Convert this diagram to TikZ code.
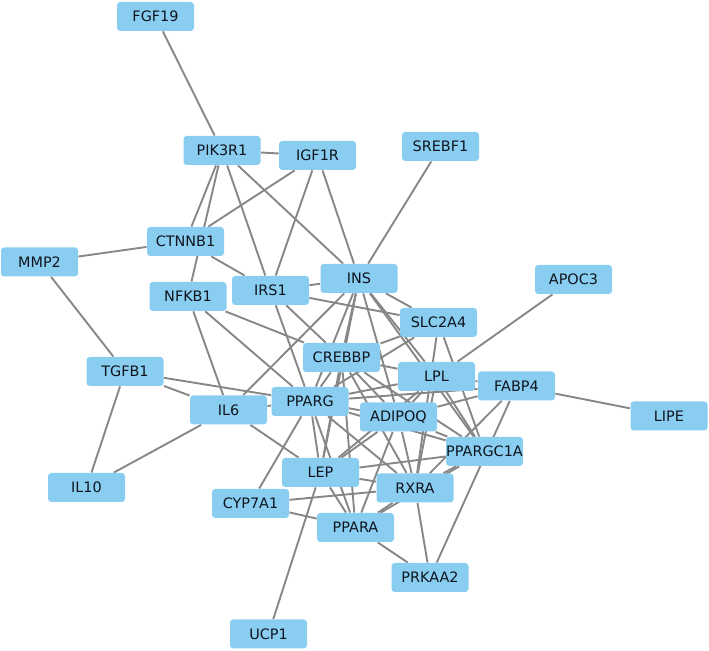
\documentclass[tikz,border=0pt]{standalone}
\usepackage{fontspec}
\setmainfont{DejaVu Sans}
\definecolor{nodeblue}{RGB}{137,206,241}
\definecolor{edgegray}{RGB}{135,135,135}
\definecolor{txt}{RGB}{15,20,30}
\pgfdeclarelayer{bg}
\pgfsetlayers{bg,main}
\begin{document}
\begin{tikzpicture}[x=0.5pt,y=-0.5pt,
  gene/.style={rectangle, rounded corners=1.6pt, fill=nodeblue, minimum width=38.5pt, minimum height=14.5pt, inner sep=0pt, font=\fontsize{7.2}{8}\selectfont, text=txt},
  link/.style={draw=edgegray, line width=0.95pt}]
\useasboundingbox (0,0) rectangle (709,651);
\node[gene] (FGF19) at (155.5,16.5) {FGF19};
\node[gene] (PIK3R1) at (222,150.5) {PIK3R1};
\node[gene] (IGF1R) at (317.5,155.5) {IGF1R};
\node[gene] (SREBF1) at (440.5,146.5) {SREBF1};
\node[gene] (CTNNB1) at (185.5,241.5) {CTNNB1};
\node[gene] (MMP2) at (39.5,262) {MMP2};
\node[gene] (INS) at (359,278.5) {INS};
\node[gene] (APOC3) at (573.5,279.5) {APOC3};
\node[gene] (NFKB1) at (188,296.5) {NFKB1};
\node[gene] (IRS1) at (270.5,290.5) {IRS1};
\node[gene] (SLC2A4) at (438.5,322.5) {SLC2A4};
\node[gene] (TGFB1) at (125,371.5) {TGFB1};
\node[gene] (CREBBP) at (341.5,357.5) {CREBBP};
\node[gene] (LPL) at (436.5,376.5) {LPL};
\node[gene] (FABP4) at (516.5,386) {FABP4};
\node[gene] (LIPE) at (669,416) {LIPE};
\node[gene] (IL6) at (228.5,410) {IL6};
\node[gene] (PPARG) at (310,401.5) {PPARG};
\node[gene] (ADIPOQ) at (398.5,417) {ADIPOQ};
\node[gene] (PPARGC1A) at (484.5,451.5) {PPARGC1A};
\node[gene] (LEP) at (320.5,472.5) {LEP};
\node[gene] (IL10) at (86.5,487.5) {IL10};
\node[gene] (CYP7A1) at (250.5,503.5) {CYP7A1};
\node[gene] (RXRA) at (415,488) {RXRA};
\node[gene] (PPARA) at (355.5,527.5) {PPARA};
\node[gene] (PRKAA2) at (430,577.5) {PRKAA2};
\node[gene] (UCP1) at (268.5,634) {UCP1};
\begin{pgfonlayer}{bg}
\foreach \a/\b in {FGF19/PIK3R1, PIK3R1/IGF1R, PIK3R1/CTNNB1, PIK3R1/NFKB1, PIK3R1/IRS1, PIK3R1/INS,
  IGF1R/CTNNB1, IGF1R/IRS1, IGF1R/INS, SREBF1/INS, MMP2/CTNNB1, MMP2/TGFB1, CTNNB1/IRS1,
  IRS1/INS, IRS1/SLC2A4, IRS1/PPARG, IRS1/CREBBP, NFKB1/IL6, NFKB1/PPARG, NFKB1/CREBBP,
  INS/IL6, INS/SLC2A4, INS/PPARG, INS/CREBBP, INS/LEP, INS/ADIPOQ, INS/LPL, INS/PPARGC1A,
  APOC3/LPL, SLC2A4/PPARGC1A, SLC2A4/CREBBP, SLC2A4/PPARG, SLC2A4/RXRA,
  TGFB1/PPARG, TGFB1/IL6, TGFB1/IL10, IL10/IL6, IL6/PPARG, IL6/LEP,
  CYP7A1/PPARG, CYP7A1/PPARA, CYP7A1/RXRA, LEP/UCP1, LIPE/FABP4, FABP4/LPL, FABP4/PRKAA2,
  FABP4/PPARG, FABP4/ADIPOQ, FABP4/RXRA, RXRA/PRKAA2, PPARA/PRKAA2, PPARA/RXRA, PPARA/PPARGC1A,
  RXRA/PPARGC1A, LEP/RXRA, LEP/PPARGC1A, LEP/ADIPOQ, LEP/PPARA, LEP/PPARG, LEP/LPL, LEP/CREBBP,
  PPARG/CREBBP, PPARG/ADIPOQ, PPARG/LPL, PPARG/PPARGC1A, PPARG/RXRA, PPARG/PPARA,
  CREBBP/LPL, CREBBP/ADIPOQ, CREBBP/PPARGC1A, CREBBP/RXRA, CREBBP/PPARA,
  ADIPOQ/LPL, ADIPOQ/PPARGC1A, ADIPOQ/RXRA, ADIPOQ/PPARA, LPL/PPARGC1A, LPL/RXRA}
  \draw[link] (\a) -- (\b);
\end{pgfonlayer}
\end{tikzpicture}
\end{document}
